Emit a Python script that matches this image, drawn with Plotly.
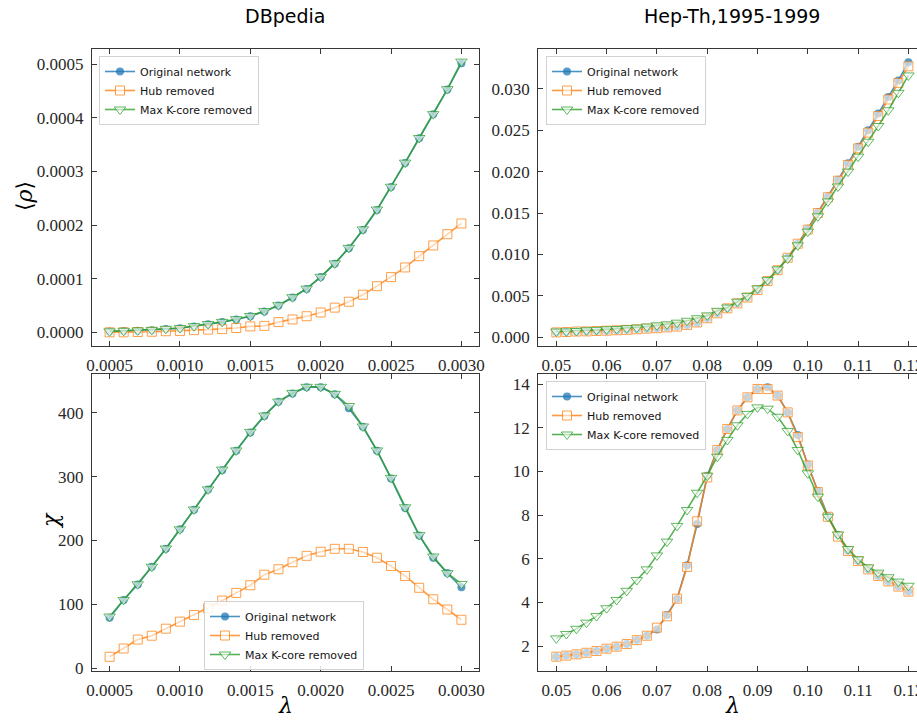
import plotly.graph_objects as go

# ---------------- data ----------------
lam_db = [0.0005, 0.0006, 0.0007, 0.0008, 0.0009, 0.0010, 0.0011, 0.0012, 0.0013,
          0.0014, 0.0015, 0.0016, 0.0017, 0.0018, 0.0019, 0.0020, 0.0021, 0.0022,
          0.0023, 0.0024, 0.0025, 0.0026, 0.0027, 0.0028, 0.0029, 0.0030]

rho_db_orig = [0.0000015, 0.0000025, 0.000003, 0.000004, 0.000006, 0.0000075, 0.000011,
               0.000015, 0.000019, 0.000024, 0.000030, 0.000039, 0.000050, 0.000065,
               0.000081, 0.000103, 0.000128, 0.000157, 0.000191, 0.000228, 0.000271,
               0.000316, 0.000362, 0.000407, 0.000453, 0.000502]
rho_db_hub = [0.0, 0.0, 0.0000005, 0.000001, 0.000002, 0.0000025, 0.000004, 0.000005,
              0.000006, 0.000008, 0.000011, 0.000012, 0.000019, 0.000024, 0.000030,
              0.000037, 0.000046, 0.000057, 0.000070, 0.000086, 0.000103, 0.000121,
              0.000142, 0.000162, 0.000183, 0.000203]
rho_db_kcore = [0.0000018, 0.0000028, 0.0000035, 0.0000045, 0.0000065, 0.000008, 0.0000115,
                0.0000155, 0.0000195, 0.0000245, 0.0000305, 0.0000395, 0.0000505, 0.0000655,
                0.0000815, 0.0001035, 0.0001285, 0.0001575, 0.000192, 0.000229, 0.0002715,
                0.0003165, 0.0003625, 0.000407, 0.0004535, 0.000505]

chi_db_orig = [79, 107, 131, 159, 187, 217.5, 248, 280, 310, 340.5, 369, 395, 417, 430,
               440, 440, 429, 407, 378, 340.5, 297, 251, 208, 173, 149, 127]
chi_db_hub = [18, 31, 45, 51, 62, 73, 83.5, 94, 106, 118, 130, 146.5, 155, 166, 176,
              182.5, 187, 187, 182, 173, 160, 144.5, 126, 108, 92, 76]
chi_db_kcore = [81, 107, 131.5, 159, 187.5, 217.5, 248.5, 280, 311, 341, 370, 395.5, 417.5,
                431, 440.5, 440.5, 429.5, 410.5, 378.5, 341, 298, 252, 208.5, 175, 149, 132]

lam_hep = [0.050, 0.052, 0.054, 0.056, 0.058, 0.060, 0.062, 0.064, 0.066, 0.068, 0.070,
           0.072, 0.074, 0.076, 0.078, 0.080, 0.082, 0.084, 0.086, 0.088, 0.090, 0.092,
           0.094, 0.096, 0.098, 0.100, 0.102, 0.104, 0.106, 0.108, 0.110, 0.112, 0.114,
           0.116, 0.118, 0.120]

rho_hep_orig = [0.0006, 0.00064, 0.0007, 0.00072, 0.00076, 0.0008, 0.00085, 0.0009, 0.00097,
                0.00105, 0.0011, 0.0012, 0.0013, 0.0015, 0.0018, 0.0023, 0.0029, 0.0035,
                0.0041, 0.0048, 0.0057, 0.0068, 0.0081, 0.0096, 0.0113, 0.0131, 0.0151,
                0.0170, 0.0190, 0.0210, 0.0230, 0.0250, 0.0270, 0.0290, 0.0310, 0.0332]
rho_hep_hub = [0.0006, 0.00064, 0.0007, 0.00072, 0.00076, 0.0008, 0.00085, 0.0009, 0.00097,
               0.00105, 0.0011, 0.0012, 0.0013, 0.0015, 0.0018, 0.0023, 0.0029, 0.0035,
               0.0041, 0.0048, 0.0057, 0.0068, 0.0081, 0.0096, 0.0113, 0.0130, 0.0150,
               0.0169, 0.0189, 0.0208, 0.0228, 0.0247, 0.0267, 0.0287, 0.0307, 0.0327]
rho_hep_kcore = [0.0007, 0.00072, 0.00076, 0.00085, 0.0009, 0.00097, 0.0010, 0.0011, 0.00117,
                 0.0013, 0.00145, 0.00157, 0.00177, 0.0020, 0.0023, 0.00265, 0.0032, 0.0036,
                 0.0043, 0.0050, 0.0059, 0.0069, 0.0082, 0.0095, 0.0111, 0.01275, 0.0146,
                 0.0164, 0.0182, 0.0200, 0.0218, 0.0236, 0.0255, 0.0274, 0.0295, 0.0316]

chi_hep_orig = [1.51, 1.56, 1.62, 1.69, 1.77, 1.88, 1.97, 2.09, 2.27, 2.47, 2.76, 3.42,
                4.17, 5.70, 7.59, 9.80, 10.98, 11.94, 12.79, 13.39, 13.77, 13.85, 13.47,
                12.70, 11.66, 10.30, 9.10, 7.95, 7.08, 6.36, 5.89, 5.51, 5.21, 4.96, 4.72, 4.50]
chi_hep_hub = [1.51, 1.56, 1.62, 1.69, 1.77, 1.88, 1.97, 2.09, 2.27, 2.47, 2.84, 3.36,
               4.17, 5.62, 7.71, 9.72, 10.98, 11.94, 12.79, 13.39, 13.77, 13.77, 13.47,
               12.70, 11.57, 10.27, 9.05, 7.92, 7.01, 6.35, 5.89, 5.51, 5.21, 4.96, 4.72, 4.49]
chi_hep_kcore = [2.35, 2.55, 2.79, 3.07, 3.37, 3.73, 4.11, 4.53, 5.02, 5.51, 6.15, 6.78,
                 7.50, 8.23, 9.02, 9.80, 10.67, 11.44, 12.11, 12.63, 12.93, 12.87, 12.50,
                 11.85, 10.98, 9.91, 8.84, 7.92, 7.11, 6.44, 5.97, 5.60, 5.36, 5.15, 4.95, 4.76]

series_names = ["Original network", "Hub removed", "Max K-core removed"]
titles = ["DBpedia", "Hep-Th,1995-1999"]
tick_db_x = [0.0005, 0.0010, 0.0015, 0.0020, 0.0025, 0.0030]
tick_hep_x = [0.05, 0.06, 0.07, 0.08, 0.09, 0.10, 0.11, 0.12]
tick_rho_db = [0.0, 0.0001, 0.0002, 0.0003, 0.0004, 0.0005]
tick_rho_hep = [0.000, 0.005, 0.010, 0.015, 0.020, 0.025, 0.030]
tick_chi_db = [0, 100, 200, 300, 400]
tick_chi_hep = [2, 4, 6, 8, 10, 12, 14]

# ---------------- styles ----------------
W, H = 917, 722
BLUE, ORANGE, GREEN = (31, 119, 180), (255, 127, 14), (44, 160, 44)


def rgba(c, a):
    return "rgba(%d,%d,%d,%s)" % (c[0], c[1], c[2], a)


styles = [
    dict(line=dict(color=rgba(BLUE, 0.8), width=1.6),
         marker=dict(symbol="circle", size=8, color=rgba(BLUE, 0.75), line=dict(width=0))),
    dict(line=dict(color=rgba(ORANGE, 0.8), width=1.6),
         marker=dict(symbol="square", size=9, color="rgba(255,255,255,0.6)",
                     line=dict(color=rgba(ORANGE, 0.75), width=1))),
    dict(line=dict(color=rgba(GREEN, 0.8), width=1.6),
         marker=dict(symbol="triangle-down", size=10, color="rgba(255,255,255,0.6)",
                     line=dict(color=rgba(GREEN, 0.75), width=1))),
]

fig = go.Figure()

panels = [
    ("x", "y", lam_db, [rho_db_orig, rho_db_hub, rho_db_kcore], "legend"),
    ("x2", "y2", lam_hep, [rho_hep_orig, rho_hep_hub, rho_hep_kcore], "legend2"),
    ("x3", "y3", lam_db, [chi_db_orig, chi_db_hub, chi_db_kcore], "legend3"),
    ("x4", "y4", lam_hep, [chi_hep_orig, chi_hep_hub, chi_hep_kcore], "legend4"),
]
for xa, ya, xs, ys_list, leg in panels:
    for name, ys, st in zip(series_names, ys_list, styles):
        fig.add_trace(go.Scatter(x=xs, y=ys, mode="lines+markers", name=name,
                                 xaxis=xa, yaxis=ya, legend=leg,
                                 line=st["line"], marker=st["marker"]))


def px_x(p):
    return p / W


def px_y(p):
    return 1 - p / H


AX = "rgb(55,55,55)"
TICKFONT = dict(family="Liberation Serif, DejaVu Serif, serif", size=17, color="rgb(40,40,40)")


def axis_common(**kw):
    d = dict(showline=True, linecolor=AX, linewidth=1.3, ticks="inside", ticklen=5,
             tickwidth=1, tickcolor=AX, showgrid=False, zeroline=False, autorange=False,
             tickfont=TICKFONT, mirror="ticks", ticklabelstandoff=4, automargin=False)
    d.update(kw)
    return d


left_dom = [px_x(92), px_x(479)]
right_dom = [px_x(538.3), 1.0]
top_dom = [px_y(345.7), px_y(49)]
bot_dom = [px_y(670.7), px_y(374)]
hep_range = [0.04642, 0.04642 + (W - 538.3) / 5030]

fig.update_layout(
    width=W, height=H, autosize=False, margin=dict(l=0, r=0, t=0, b=0, pad=0),
    paper_bgcolor="white", plot_bgcolor="white", showlegend=True,
    xaxis=axis_common(domain=left_dom, anchor="y", range=[0.000375, 0.003125],
                      tickvals=tick_db_x, tickformat=".4f"),
    yaxis=axis_common(domain=top_dom, anchor="x", range=[-0.000025, 0.0005285],
                      tickvals=tick_rho_db, tickformat=".4f"),
    xaxis2=axis_common(domain=right_dom, anchor="y2", range=hep_range,
                       tickvals=tick_hep_x, tickformat=".2f", ticklabeloverflow="allow"),
    yaxis2=axis_common(domain=top_dom, anchor="x2", range=[-0.00101, 0.03479],
                       tickvals=tick_rho_hep, tickformat=".3f", mirror=False),
    xaxis3=axis_common(domain=left_dom, anchor="y3", range=[0.000375, 0.003125],
                       tickvals=tick_db_x, tickformat=".4f"),
    yaxis3=axis_common(domain=bot_dom, anchor="x3", range=[-3.76, 460.6],
                       tickvals=tick_chi_db),
    xaxis4=axis_common(domain=right_dom, anchor="y4", range=hep_range,
                       tickvals=tick_hep_x, tickformat=".2f", ticklabeloverflow="allow"),
    yaxis4=axis_common(domain=bot_dom, anchor="x4", range=[0.869, 14.458],
                       tickvals=tick_chi_hep, mirror=False),
)

LEGFONT = dict(family="DejaVu Sans, sans-serif", size=11, color="rgb(20,20,20)")
legcommon = dict(font=LEGFONT, bgcolor="rgba(255,255,255,0.85)", bordercolor="rgb(210,210,210)",
                 borderwidth=1, xanchor="left", yanchor="top", xref="paper", yref="paper",
                 tracegroupgap=0, itemwidth=30)
fig.update_layout(
    legend=dict(x=px_x(99), y=px_y(56), **legcommon),
    legend2=dict(x=px_x(546), y=px_y(56), **legcommon),
    legend3=dict(x=px_x(204), y=px_y(601), **legcommon),
    legend4=dict(x=px_x(546), y=px_y(381), **legcommon),
)

TITLEFONT = dict(family="DejaVu Sans, sans-serif", size=19, color="black")
LABELFONT = dict(family="DejaVu Serif, Liberation Serif, serif", size=22, color="black")
annos = [
    dict(text=titles[0], x=px_x(285), y=px_y(16), font=TITLEFONT, textangle=0),
    dict(text=titles[1], x=px_x(732), y=px_y(16), font=TITLEFONT, textangle=0),
    dict(text="⟨<i>ρ</i>⟩", x=px_x(24), y=px_y(196), font=LABELFONT, textangle=-90),
    dict(text="<i>χ</i>", x=px_x(50), y=px_y(521), font=LABELFONT, textangle=-90),
    dict(text="<i>λ</i>", x=px_x(285), y=px_y(705), font=LABELFONT, textangle=0),
    dict(text="<i>λ</i>", x=px_x(732), y=px_y(705), font=LABELFONT, textangle=0),
]
for a in annos:
    fig.add_annotation(xref="paper", yref="paper", showarrow=False,
                       xanchor="center", yanchor="middle", **a)

fig.write_html("out.html",
               config={"displayModeBar": False, "responsive": False},
               post_script="document.body.style.margin='0px';"
                           "document.body.style.overflow='hidden';")
